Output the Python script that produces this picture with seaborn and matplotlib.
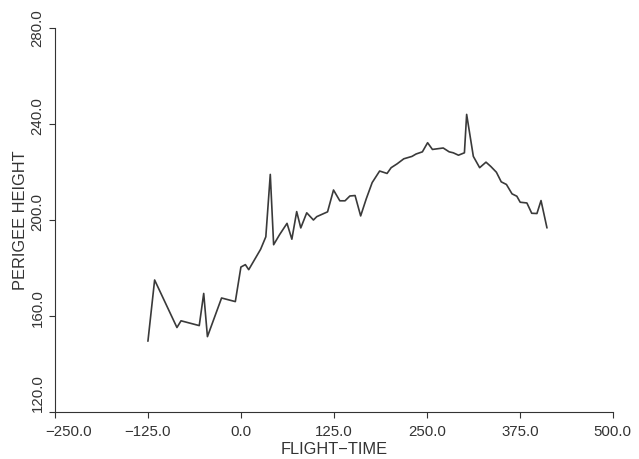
import numpy as np
import pandas as pd
import seaborn as sns
import matplotlib.pyplot as plt
from matplotlib.transforms import ScaledTranslation

# flight time / perigee height
flight_time = [-125, -116, -86, -80.5, -56, -50, -45, -26, -7.5, 0, 6, 10.5,
               26.5, 33.5, 39.5, 44, 52, 62, 68.5, 75, 80.5, 88.5, 97.5, 102,
               116.5, 124.5, 133, 140, 146.5, 153.5, 161, 168.5, 176.5, 186.5,
               196.5, 202, 210, 219, 230, 235.5, 244, 251, 257.5, 272, 280,
               285.5, 292.5, 300.5, 303.5, 312.5, 321, 329.5, 336, 343.5, 350,
               357, 364.5, 371, 375.5, 384.5, 391, 398, 403.5, 411.5]
perigee = [149.5, 175, 155.2, 158, 156, 169.4, 151.4, 167.5, 166, 180.4, 181.4, 179.3,
           187.8, 193, 219, 189.7, 193.9, 198.6, 192, 203.5, 196.7, 203, 200, 201.4,
           203.4, 212.5, 208, 208, 210, 210.2, 201.7, 208.8, 215.6, 220.4,
           219.4, 221.8, 223.4, 225.5, 226.5, 227.5, 228.4, 232.2, 229.4, 230, 228.4,
           228, 227, 228, 244, 226.5, 221.8, 224.1, 222.3, 219.9, 215.9,
           214.8, 210.9, 209.9, 207.4, 207.1, 202.8, 202.7, 208.1, 196.7]

x_ticks = [-250, -125, 0, 125, 250, 375, 500]
y_ticks = [120, 160, 200, 240, 280]

df = pd.DataFrame({"FLIGHT-TIME": flight_time, "PERIGEE HEIGHT": perigee})

sns.set_style("ticks")
plt.rcParams['font.family'] = ['Liberation Sans', 'DejaVu Sans']
ink = "#333333"

fig = plt.figure(figsize=(6.39, 4.59), dpi=100)
ax = fig.add_axes([0.086, 0.1024, 0.873, 0.8366])

sns.lineplot(data=df, x="FLIGHT-TIME", y="PERIGEE HEIGHT", sort=False,
             estimator=None, color="#3a3a3a", linewidth=1.2, ax=ax)

ax.set_xlim(-250, 500)
ax.set_ylim(120, 280)
ax.set_xticks(x_ticks)
ax.set_yticks(y_ticks)
ax.set_xticklabels([f"{v:.1f}".replace("-", "\u2212") for v in x_ticks], fontsize=10.8, color=ink)
ax.set_yticklabels([f"{v:.1f}" for v in y_ticks], fontsize=10.8, color=ink,
                   rotation=90, va="center")
ax.tick_params(direction="out", length=4.5, width=0.8, colors=ink, pad=3)
ax.tick_params(axis="x", pad=5)
ax.set_xlabel("FLIGHT\u2212TIME", fontsize=11.8, color=ink, labelpad=2)
ax.set_ylabel("PERIGEE HEIGHT", fontsize=11.8, color=ink, labelpad=2)

# labels at the corner are pushed away from it, the middle ones sit a little high
px = 1 / 72
ylabs = ax.get_yticklabels()
for lab in ylabs[1:-1]:
    lab.set_transform(lab.get_transform() + ScaledTranslation(0, 6 * px, fig.dpi_scale_trans))
ylabs[0].set_va("bottom")
xlabs = ax.get_xticklabels()
xlabs[0].set_ha("left")
xlabs[0].set_transform(xlabs[0].get_transform() + ScaledTranslation(-7 * px, 0, fig.dpi_scale_trans))

sns.despine(ax=ax)
for s in ["left", "bottom"]:
    ax.spines[s].set_color(ink)
    ax.spines[s].set_linewidth(0.8)

fig.savefig("out.png", dpi=100)
